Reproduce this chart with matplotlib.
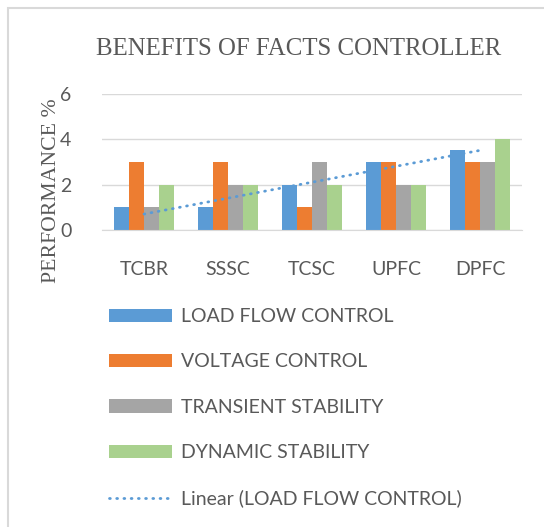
import matplotlib.pyplot as plt
import numpy as np
from matplotlib.patches import Rectangle

# data
controllers = ['TCBR', 'SSSC', 'TCSC', 'UPFC', 'DPFC']
load_flow = [1, 1, 2, 3, 3.5]
voltage = [3, 3, 1, 3, 3]
transient = [1, 2, 3, 2, 3]
dynamic = [2, 2, 2, 2, 4]
series_names = ['LOAD FLOW CONTROL', 'VOLTAGE CONTROL', 'TRANSIENT STABILITY', 'DYNAMIC STABILITY']
colors = ['#5B9BD5', '#ED7D31', '#A5A5A5', '#A9D18E']
yticks = [0, 2, 4, 6]

txt = '#595959'
sans = ['Lato', 'DejaVu Sans']
serif = ['Liberation Serif', 'DejaVu Serif']

fig = plt.figure(figsize=(5.44, 5.27), dpi=100)
ax = fig.add_axes([102/544, 1 - 230/527, 420/544, 136.5/527])

x = np.arange(len(controllers))
w = 0.18
bars = []
for i, (vals, c) in enumerate(zip([load_flow, voltage, transient, dynamic], colors)):
    b = ax.bar(x + (i - 1.5) * w, vals, w, color=c, zorder=2)
    bars.append(b)

# linear trendline of load flow
k, b0 = np.polyfit(x, load_flow, 1)
trend, = ax.plot(x, k * x + b0, color='#5B9BD5', lw=2.0, ls=(0, (0.3, 2.3)),
                 dash_capstyle='round', zorder=3)

ax.set_xlim(-0.5, len(controllers) - 0.5)
ax.set_ylim(0, 6)
ax.set_yticks(yticks)
ax.set_xticks(x)
ax.set_xticklabels(controllers)
ax.grid(axis='y', color='#D9D9D9', lw=1, zorder=0)
for s in ['top', 'right', 'left']:
    ax.spines[s].set_visible(False)
ax.spines['bottom'].set_color('#D9D9D9')
ax.tick_params(length=0, colors=txt, labelsize=14)
ax.tick_params(axis='x', pad=22)
ax.tick_params(axis='y', pad=22)
for lab in ax.get_xticklabels() + ax.get_yticklabels():
    lab.set_family(sans)

fig.text(299/544, 1 - 55/527, 'BENEFITS OF FACTS CONTROLLER', ha='center', va='baseline',
         fontsize=17.9, color=txt, family=serif)
fig.text(52/544, 1 - 191/527, 'PERFORMANCE %', rotation=90, ha='center', va='center',
         fontsize=15.7, color=txt, family=serif)

leg = fig.legend(bars + [trend], series_names + ['Linear (LOAD FLOW CONTROL)'],
                 loc='upper left', bbox_to_anchor=(109/544, 1 - 308/527),
                 frameon=False, borderpad=0, borderaxespad=0,
                 handlelength=3.25, handleheight=0.67, handletextpad=0.45,
                 labelspacing=1.46, prop={'family': sans, 'size': 14}, labelcolor=txt)

fig.patches.append(Rectangle((8/544, -0.1), 1.1, 1.1 - 8/527, transform=fig.transFigure,
                             fill=False, ec='#D9D9D9', lw=1.5))

fig.savefig('out.png', dpi=100)
